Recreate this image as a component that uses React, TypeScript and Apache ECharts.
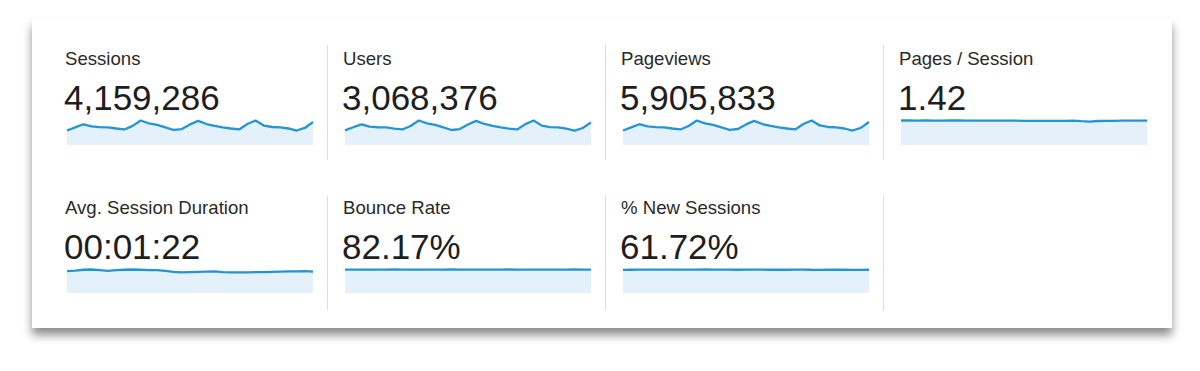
import React, { useEffect, useRef } from "react";
import * as echarts from "echarts";

// ---- data ----
const dayLabels = [
  "Day 1", "Day 2", "Day 3", "Day 4", "Day 5", "Day 6", "Day 7", "Day 8", "Day 9", "Day 10",
  "Day 11", "Day 12", "Day 13", "Day 14", "Day 15", "Day 16", "Day 17", "Day 18", "Day 19", "Day 20",
  "Day 21", "Day 22", "Day 23", "Day 24", "Day 25", "Day 26", "Day 27", "Day 28", "Day 29", "Day 30", "Day 31",
];

const metricLabels = [
  "Sessions",
  "Users",
  "Pageviews",
  "Pages / Session",
  "Avg. Session Duration",
  "Bounce Rate",
  "% New Sessions",
];

const metricTotals = [
  "4,159,286",
  "3,068,376",
  "5,905,833",
  "1.42",
  "00:01:22",
  "82.17%",
  "61.72%",
];

// daily sessions (thousands)
const sessionsDaily = [107, 130, 153, 137, 132, 130, 122, 115, 141, 181, 159, 149, 130, 111, 118, 152, 178, 155, 141, 130, 122, 115, 155, 181, 144, 133, 130, 122, 107, 126, 170];
// daily users (thousands)
const usersDaily = [80, 97, 113, 101, 97, 96, 90, 85, 104, 134, 118, 110, 96, 82, 87, 112, 132, 115, 104, 96, 90, 85, 114, 134, 106, 98, 96, 90, 79, 93, 124];
// daily pageviews (thousands)
const pageviewsDaily = [152, 185, 218, 195, 188, 185, 173, 163, 200, 257, 226, 212, 185, 158, 168, 216, 253, 220, 200, 185, 173, 163, 220, 257, 205, 189, 185, 173, 152, 179, 241];
const pagesPerSessionDaily = [1.43, 1.43, 1.42, 1.43, 1.42, 1.42, 1.43, 1.43, 1.42, 1.42, 1.42, 1.42, 1.42, 1.42, 1.42, 1.41, 1.41, 1.41, 1.41, 1.41, 1.41, 1.42, 1.39, 1.37, 1.40, 1.41, 1.41, 1.42, 1.42, 1.42, 1.42];
// seconds
const avgSessionDurationDaily = [82, 84, 87, 88, 86, 83, 86, 87, 88, 87, 86, 86, 83, 79, 77, 78, 79, 80, 81, 78, 77, 77, 77, 78, 78, 79, 80, 81, 81, 82, 80];
const bounceRateDaily = [82.3, 82.2, 82.0, 82.1, 82.2, 82.3, 82.4, 82.2, 82.0, 81.9, 82.0, 82.1, 82.3, 82.4, 82.3, 82.1, 82.0, 82.1, 82.2, 82.3, 82.4, 82.3, 82.1, 82.0, 82.1, 82.2, 82.3, 82.3, 82.4, 82.2, 82.0];
const newSessionsPctDaily = [61.4, 61.6, 61.8, 62.0, 62.1, 62.1, 62.0, 62.0, 61.9, 62.1, 62.2, 62.0, 61.8, 61.7, 61.6, 61.9, 62.0, 61.8, 61.6, 61.5, 61.6, 61.8, 61.7, 61.5, 61.4, 61.5, 61.6, 61.5, 61.4, 61.4, 61.5];

const metricSeries = [
  sessionsDaily,
  usersDaily,
  pageviewsDaily,
  pagesPerSessionDaily,
  avgSessionDurationDaily,
  bounceRateDaily,
  newSessionsPctDaily,
];

// ---- layout / style ----
const FONT = "'Liberation Sans', Arial, Helvetica, sans-serif";
const LINE_COLOR = "#2495d4";
const AREA_COLOR = "#e4f0fa";
const COL_STEP = 278;
const TEXT_LEFT = 65;
const SPARK_LEFT = 67;
const SPARK_WIDTH = 246;
const ROWS = [
  { labelY: 58.5, numY: 97, sparkTop: 120.5, sparkBottom: 145, divTop: 45, divBottom: 160 },
  { labelY: 207.5, numY: 246, sparkTop: 269.5, sparkBottom: 293, divTop: 196, divBottom: 310 },
];

export default function App() {
  const ref = useRef<HTMLDivElement>(null);

  useEffect(() => {
    document.body.style.margin = "0";
    const chart = echarts.init(ref.current!, null, { renderer: "svg" });

    const grids: any[] = [];
    const xAxes: any[] = [];
    const yAxes: any[] = [];
    const series: any[] = [];
    const graphics: any[] = [];

    graphics.push({
      type: "rect",
      z: -10,
      shape: { x: 32, y: 19, width: 1140, height: 309 },
      style: {
        fill: "#ffffff",
        shadowBlur: 10,
        shadowOffsetX: 0,
        shadowOffsetY: 7,
        shadowColor: "rgba(0,0,0,0.45)",
      },
    });

    metricSeries.forEach((data, i) => {
      const row = ROWS[Math.floor(i / 4)];
      const col = i % 4;
      grids.push({
        left: SPARK_LEFT + col * COL_STEP,
        top: row.sparkTop,
        width: SPARK_WIDTH,
        height: row.sparkBottom - row.sparkTop,
        outerBoundsMode: "none",
        containLabel: false,
      });
      xAxes.push({
        type: "category",
        gridIndex: i,
        data: dayLabels,
        boundaryGap: false,
        show: false,
      });
      yAxes.push({
        type: "value",
        gridIndex: i,
        min: 0,
        max: (v: any) => v.max,
        show: false,
        splitLine: { show: false },
      });
      series.push({
        type: "line",
        xAxisIndex: i,
        yAxisIndex: i,
        data,
        showSymbol: false,
        clip: false,
        silent: true,
        lineStyle: { color: LINE_COLOR, width: 2.3 },
        itemStyle: { color: LINE_COLOR },
        areaStyle: { color: AREA_COLOR, opacity: 1 },
      });
      graphics.push({
        type: "text",
        z: 100,
        x: TEXT_LEFT + col * COL_STEP,
        y: row.labelY,
        style: {
          text: metricLabels[i],
          fontFamily: FONT,
          fontSize: 18.6,
          fill: "#2a2a2a",
          verticalAlign: "middle",
          align: "left",
        },
      });
      graphics.push({
        type: "text",
        z: 100,
        x: TEXT_LEFT + col * COL_STEP - 1,
        y: row.numY,
        style: {
          text: metricTotals[i],
          fontFamily: FONT,
          fontSize: 35,
          fill: "#1e1e1e",
          verticalAlign: "middle",
          align: "left",
        },
      });
    });

    ROWS.forEach((row) => {
      [327, 605, 883].forEach((x) => {
        graphics.push({
          type: "line",
          z: 100,
          shape: { x1: x + 0.5, y1: row.divTop, x2: x + 0.5, y2: row.divBottom },
          style: { stroke: "#dcdcdc", lineWidth: 1 },
        });
      });
    });

    chart.setOption({
      animation: false,
      backgroundColor: "#ffffff",
      tooltip: { show: false },
      grid: grids,
      xAxis: xAxes,
      yAxis: yAxes,
      series,
      graphic: { elements: graphics },
    });

    return () => chart.dispose();
  }, []);

  return <div ref={ref} style={{ width: 1200, height: 371 }} />;
}
